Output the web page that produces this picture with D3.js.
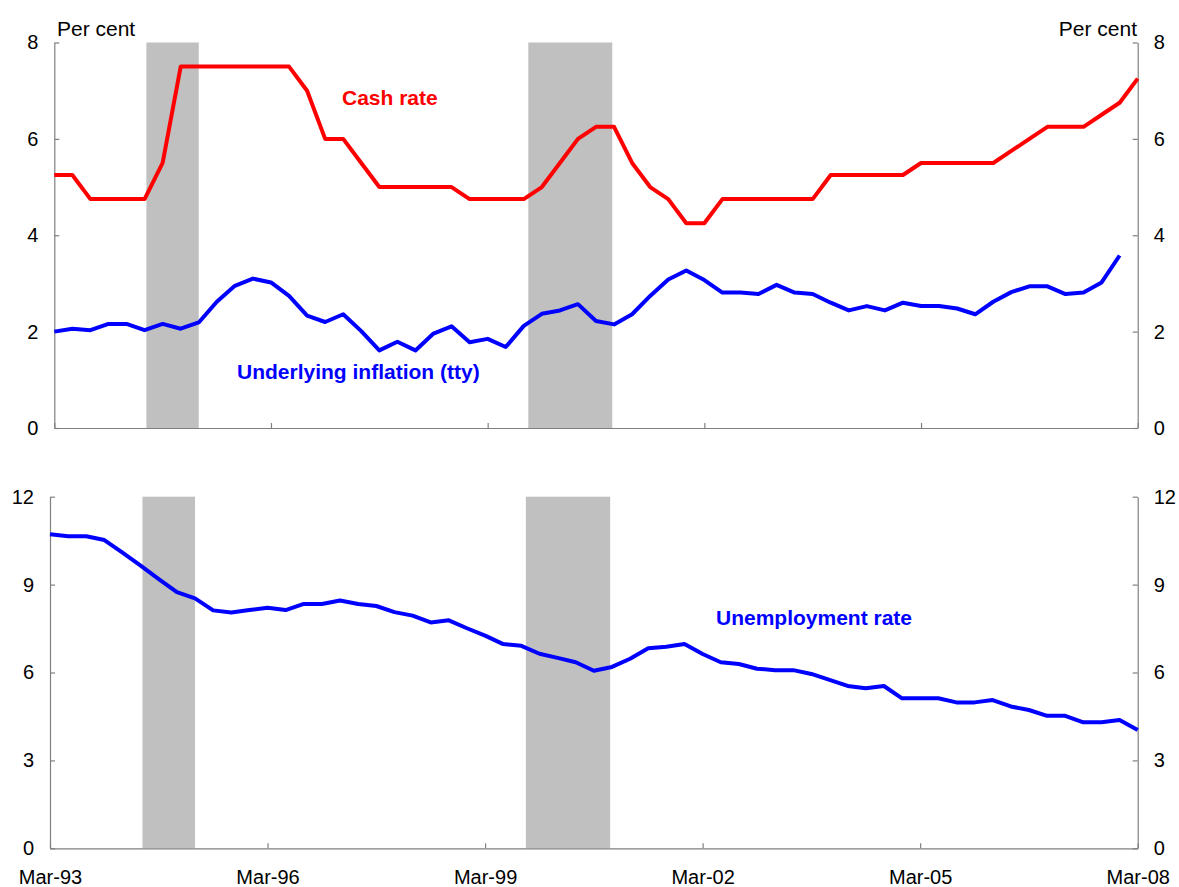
<!DOCTYPE html>
<html>
<head>
<meta charset="utf-8">
<script src="https://cdn.jsdelivr.net/npm/d3@7"></script>
<style>
  body { margin: 0; background: #fff; }
  text { font-family: Arial, "Liberation Sans", sans-serif; }
</style>
</head>
<body>
<svg id="chart" width="1179" height="887"></svg>
<script>
// quarterly, Mar-93 .. Mar-08 (index 0..60)
var xTickIdx = [0, 12, 24, 36, 48, 60];
var xTickLabels = ["Mar-93", "Mar-96", "Mar-99", "Mar-02", "Mar-05", "Mar-08"];

var cashRate = [5.25, 5.25, 4.75, 4.75, 4.75, 4.75, 5.5, 7.5, 7.5, 7.5,
                7.5, 7.5, 7.5, 7.5, 7.0, 6.0, 6.0, 5.5, 5.0, 5.0,
                5.0, 5.0, 5.0, 4.75, 4.75, 4.75, 4.75, 5.0, 5.5, 6.0,
                6.25, 6.25, 5.5, 5.0, 4.75, 4.25, 4.25, 4.75, 4.75, 4.75,
                4.75, 4.75, 4.75, 5.25, 5.25, 5.25, 5.25, 5.25, 5.5, 5.5,
                5.5, 5.5, 5.5, 5.75, 6.0, 6.25, 6.25, 6.25, 6.5, 6.75,
                7.25];

var inflation = [2.0, 2.06, 2.03, 2.16, 2.16, 2.03, 2.16, 2.06, 2.19, 2.62,
                 2.95, 3.10, 3.02, 2.74, 2.33, 2.20, 2.36, 2.01, 1.61, 1.79,
                 1.61, 1.96, 2.11, 1.78, 1.85, 1.68, 2.12, 2.37, 2.44, 2.57,
                 2.22, 2.15, 2.36, 2.74, 3.08, 3.27, 3.07, 2.81, 2.81, 2.78,
                 2.97, 2.81, 2.78, 2.60, 2.44, 2.53, 2.44, 2.60, 2.53, 2.53,
                 2.48, 2.36, 2.62, 2.82, 2.94, 2.94, 2.78, 2.81, 3.02, 3.58];

var unemployment = [10.72, 10.65, 10.65, 10.52, 10.09, 9.65, 9.19, 8.74, 8.53, 8.12,
                    8.05, 8.13, 8.21, 8.13, 8.34, 8.34, 8.46, 8.34, 8.27, 8.06,
                    7.94, 7.71, 7.78, 7.51, 7.26, 6.97, 6.91, 6.64, 6.50, 6.35,
                    6.06, 6.19, 6.47, 6.83, 6.88, 6.97, 6.63, 6.35, 6.29, 6.13,
                    6.08, 6.08, 5.95, 5.75, 5.54, 5.46, 5.54, 5.12, 5.12, 5.12,
                    4.98, 4.98, 5.06, 4.84, 4.72, 4.52, 4.52, 4.30, 4.30, 4.38,
                    4.04];

// shaded periods, in quarter index
var bandStart = [5.1, 26.25];
var bandEnd = [8.0, 30.9];

var topTicks = [0, 2, 4, 6, 8];
var bottomTicks = [0, 3, 6, 9, 12];

var svg = d3.select("#chart");
var axisColour = "#808080";

function drawPanel(opts) {
  var x = d3.scaleLinear().domain([0, 60]).range([opts.left, opts.right]);
  var y = d3.scaleLinear().domain(opts.yDomain).range([opts.bottom, opts.top]);

  var g = svg.append("g");

  // shaded bands
  g.selectAll("rect.band")
   .data(d3.zip(bandStart, bandEnd))
   .enter().append("rect")
   .attr("class", "band")
   .attr("x", d => x(d[0]))
   .attr("width", d => x(d[1]) - x(d[0]))
   .attr("y", y(opts.yDomain[1]))
   .attr("height", y(opts.yDomain[0]) - y(opts.yDomain[1]))
   .attr("fill", "#c0c0c0");

  var axL = g.append("g")
     .attr("transform", `translate(${opts.left},0)`)
     .call(d3.axisLeft(y).tickValues(opts.yTicks).tickSize(-5).tickSizeOuter(0).tickPadding(16));
  var axR = g.append("g")
     .attr("transform", `translate(${opts.right},0)`)
     .call(d3.axisRight(y).tickValues(opts.yTicks).tickSize(-5).tickSizeOuter(0).tickPadding(16));
  var xAxis = d3.axisBottom(x).tickValues(xTickIdx).tickSize(-5).tickSizeOuter(0).tickPadding(21.5)
                .tickFormat((d, i) => opts.xLabels ? xTickLabels[i] : "");
  var axB = g.append("g")
     .attr("transform", `translate(0,${opts.bottom})`)
     .call(xAxis);

  [axL, axR, axB].forEach(function(a) {
    a.selectAll("path, line").attr("stroke", axisColour).attr("stroke-width", 1.2);
    a.selectAll("text").attr("fill", "#000").style("font-size", "20px")
     .style("font-family", "Arial, 'Liberation Sans', sans-serif");
  });

  var line = d3.line().x((d, i) => x(i)).y(d => y(d));
  opts.series.forEach(function(s) {
    g.append("path")
     .datum(s.values)
     .attr("d", line)
     .attr("fill", "none")
     .attr("stroke", s.colour)
     .attr("stroke-width", 4)
     .attr("stroke-linejoin", "round");
  });
  return g;
}

var topG = drawPanel({
  left: 54.3, right: 1137.7, top: 42.5, bottom: 428,
  yDomain: [0, 8], yTicks: topTicks, xLabels: false,
  series: [{values: cashRate, colour: "#ff0000"}, {values: inflation, colour: "#0000ff"}]
});

var botG = drawPanel({
  left: 50, right: 1137.7, top: 496.7, bottom: 848.3,
  yDomain: [0, 12], yTicks: bottomTicks, xLabels: true,
  series: [{values: unemployment, colour: "#0000ff"}]
});

// unit labels
svg.append("text").attr("x", 57).attr("y", 36).style("font-size", "21px").text("Per cent");
svg.append("text").attr("x", 1137).attr("y", 36).attr("text-anchor", "end")
   .style("font-size", "21px").text("Per cent");

// series labels
svg.append("text").attr("x", 342).attr("y", 105).attr("fill", "#ff0000")
   .style("font-size", "21px").style("font-weight", "bold").text("Cash rate");
svg.append("text").attr("x", 237).attr("y", 379).attr("fill", "#0000ff")
   .style("font-size", "21px").style("font-weight", "bold").text("Underlying inflation (tty)");
svg.append("text").attr("x", 716).attr("y", 625).attr("fill", "#0000ff")
   .style("font-size", "21px").style("font-weight", "bold").text("Unemployment rate");
</script>
</body>
</html>
